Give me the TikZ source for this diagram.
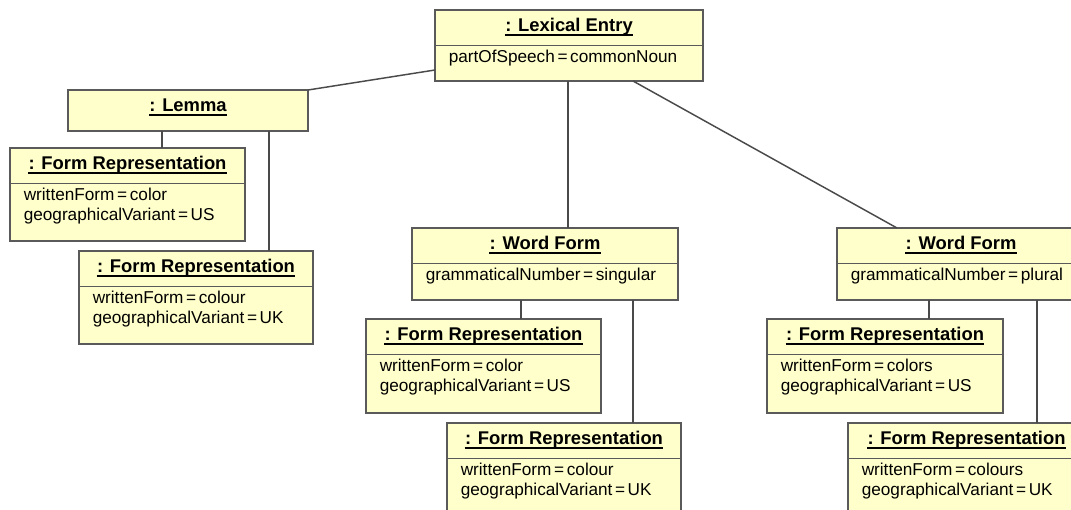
\documentclass[tikz,border=0pt]{standalone}
\usepackage{fontspec}
\setmainfont{Liberation Sans}[WordSpace=0.55, BoldFeatures={WordSpace=1}]
\usetikzlibrary{fit}
\definecolor{objfill}{HTML}{FFFFCC}
\definecolor{objedge}{HTML}{5A5A5A}
\definecolor{linkcol}{HTML}{4A4A4A}
\tikzset{
  objframe/.style={draw=objedge, fill=objfill, line width=1.1pt, inner sep=0pt, outer sep=0pt},
  objrule/.style={draw=objedge, line width=1.1pt},
  objtitle/.style={inner sep=0pt, font=\fontsize{13.8}{15}\selectfont\bfseries},
  objattr/.style={inner sep=0pt, font=\fontsize{12.9}{15}\selectfont},
  titleline/.style={line width=1.4pt, draw=black},
  link/.style={draw=linkcol, line width=1.1pt},
}
% object box: name, left, top, right, bottom, title, attribute 1, attribute 2
\newcommand\objbox[8]{%
  \node[objframe, fit={(#2,#3) (#4,#5)}] (#1) {};
  \draw[objrule] ({#2},{#3+35.5}) -- ({#4},{#3+35.5});
  \node[objtitle, anchor=base] (#1-t) at ({(#2+#4)/2},{#3+21.5}) {: #6};
  \draw[titleline] ([yshift=-2.4pt]#1-t.base west) -- ([yshift=-2.4pt]#1-t.base east);
  \node[objattr, anchor=base west] (#1-a) at ({#2+13.5},{#3+52.5}) {#7};
  \node[objattr, anchor=base west] (#1-b) at ({#2+13.5},{#3+72.5}) {#8};
}
% object box with a title only
\newcommand\titlebox[6]{%
  \node[objframe, fit={(#2,#3) (#4,#5)}] (#1) {};
  \node[objtitle, anchor=base] (#1-t) at ({(#2+#4)/2},{#3+22}) {: #6};
  \draw[titleline] ([yshift=-2.4pt]#1-t.base west) -- ([yshift=-2.4pt]#1-t.base east);
}
\begin{document}
\begin{tikzpicture}[x=0.75pt, y=-0.75pt]
\clip (0,0) rectangle (1071,510);

\objbox{lex}{435}{10}{703}{81}{Lexical Entry}{partOfSpeech = commonNoun}{}
\titlebox{lemma}{68}{90}{308}{131}{Lemma}
\objbox{fr1}{10}{148}{245}{241}{Form Representation}{writtenForm = color}{geographicalVariant = US}
\objbox{fr2}{79}{251}{313}{344}{Form Representation}{writtenForm = colour}{geographicalVariant = UK}

\objbox{wf1}{412}{228}{678}{300}{Word Form}{grammaticalNumber = singular}{}
\objbox{fr3}{366}{319}{601}{413}{Form Representation}{writtenForm = color}{geographicalVariant = US}
\objbox{fr4}{447}{423}{681}{520}{Form Representation}{writtenForm = colour}{geographicalVariant = UK}

\objbox{wf2}{837}{228}{1085}{300}{Word Form}{grammaticalNumber = plural}{}
\objbox{fr5}{767}{319}{1003}{413}{Form Representation}{writtenForm = colors}{geographicalVariant = US}
\objbox{fr6}{848}{423}{1085}{520}{Form Representation}{writtenForm = colours}{geographicalVariant = UK}

% links
\draw[link] (lemma.north east) -- (lex.west |- 0,70);
\draw[link] (162,0 |- lemma.south) -- (162,0 |- fr1.north);
\draw[link] (269,0 |- lemma.south) -- (269,0 |- fr2.north);
\draw[link] (568,0 |- lex.south) -- (568,0 |- wf1.north);
\draw[link] (633,0 |- lex.south) -- (897,0 |- wf2.north);
\draw[link] (521,0 |- wf1.south) -- (521,0 |- fr3.north);
\draw[link] (633,0 |- wf1.south) -- (633,0 |- fr4.north);
\draw[link] (929,0 |- wf2.south) -- (929,0 |- fr5.north);
\draw[link] (1037,0 |- wf2.south) -- (1037,0 |- fr6.north);
\end{tikzpicture}
\end{document}
